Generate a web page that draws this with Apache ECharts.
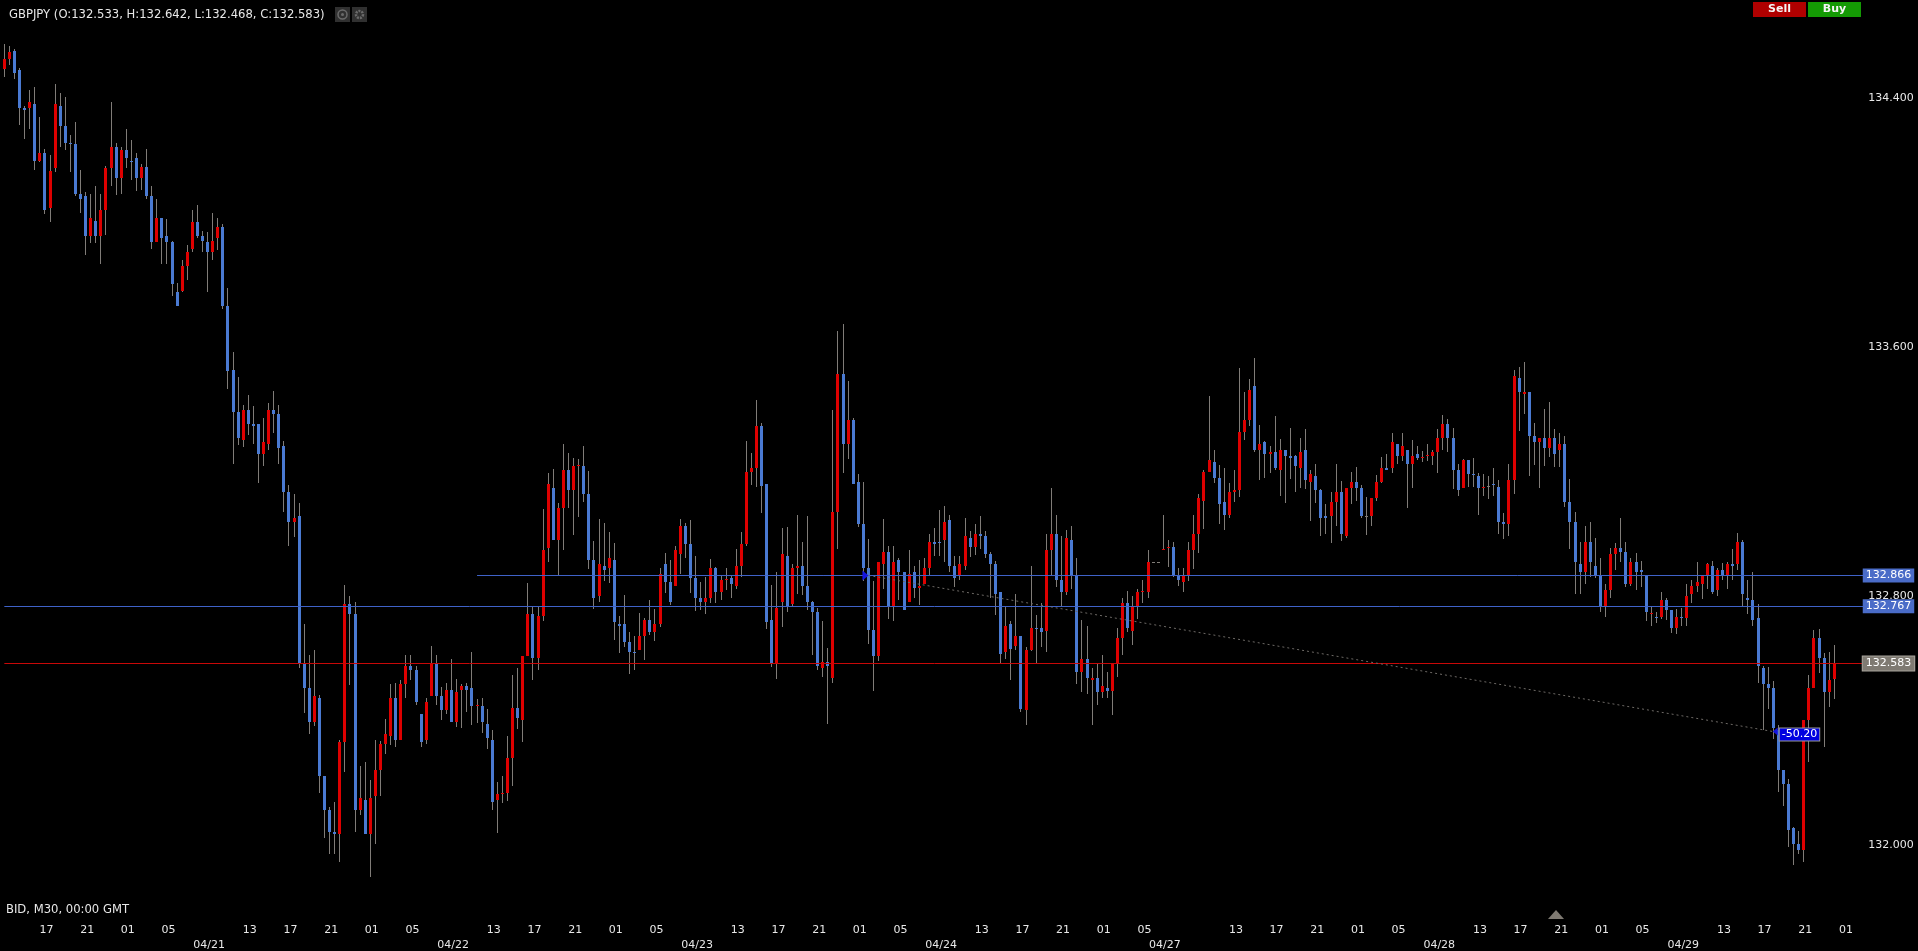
<!DOCTYPE html>
<html>
<head>
<meta charset="utf-8">
<title>GBPJPY M30</title>
<style>
html,body{margin:0;padding:0;background:#000;}
#main{width:1918px;height:951px;}
</style>
<script src="https://cdn.jsdelivr.net/npm/echarts@6/dist/echarts.min.js"></script>
</head>
<body>
<div id="main"></div>
<script>
// every row: open, close, low, high
var bars0421 = [
[134.496,134.527,134.468,134.576],[134.527,134.549,134.507,134.567],[134.554,134.483,134.462,134.560],[134.490,134.368,134.313,134.498],
[134.368,134.364,134.268,134.374],[134.368,134.387,134.303,134.428],[134.381,134.200,134.171,134.437],[134.200,134.226,134.197,134.339],
[134.226,134.040,134.027,134.238],[134.046,134.168,134.001,134.217],[134.175,134.381,134.162,134.445],[134.374,134.310,134.245,134.416],
[134.310,134.258,134.233,134.406],[134.258,134.252,134.162,134.281],[134.252,134.091,134.087,134.323],[134.091,134.078,134.033,134.171],
[134.085,133.956,133.898,134.098],[133.956,134.014,133.934,134.094],[134.007,133.956,133.934,134.117],[133.956,134.040,133.866,134.091],
[134.040,134.175,133.962,134.184],[134.175,134.245,134.117,134.390],[134.245,134.143,134.088,134.258],[134.143,134.233,134.094,134.245],
[134.233,134.207,134.175,134.303],[134.200,134.197,134.139,134.265],[134.207,134.143,134.101,134.223],[134.143,134.181,134.104,134.188],
[134.181,134.085,134.075,134.236],[134.085,133.937,133.917,134.119],[133.937,134.014,133.937,134.078],[134.014,133.950,133.866,134.014],
[133.956,133.937,133.866,134.011],[133.937,133.802,133.763,133.943],[133.776,133.731,133.731,133.808],[133.782,133.860,133.779,133.879],
[133.860,133.905,133.815,133.930],[133.917,134.001,133.905,134.042],[134.001,133.956,133.950,134.056],[133.956,133.943,133.905,133.975],
[133.937,133.905,133.779,133.969],[133.905,133.943,133.879,134.030],[133.950,133.988,133.911,134.014],[133.988,133.731,133.724,133.995],
[133.731,133.525,133.464,133.789],[133.526,133.391,133.224,133.584],[133.391,133.307,133.285,133.503],[133.301,133.397,133.278,133.413]
];
var bars0422 = [
[133.397,133.352,133.317,133.445],[133.352,133.346,133.288,133.410],[133.352,133.256,133.162,133.352],[133.256,133.294,133.217,133.372],
[133.288,133.397,133.269,133.420],[133.397,133.384,133.323,133.458],[133.384,133.275,133.224,133.413],[133.281,133.134,133.069,133.298],
[133.134,133.037,132.960,133.156],[133.037,133.050,132.989,133.127],[133.056,132.583,132.568,133.098],[132.583,132.503,132.423,132.711],
[132.503,132.394,132.355,132.609],[132.394,132.478,132.381,132.626],[132.471,132.220,132.166,132.481],[132.220,132.111,132.021,132.220],
[132.111,132.040,131.969,132.121],[132.040,132.034,131.969,132.137],[132.034,132.330,131.944,132.336],[132.330,132.773,132.233,132.834],
[132.773,132.741,132.513,132.799],[132.741,132.111,132.040,132.780],[132.111,132.150,132.095,132.252],[132.143,132.034,132.034,132.265],
[132.034,132.150,131.895,132.207],[132.156,132.240,132.002,132.336],[132.240,132.323,132.156,132.333],[132.323,132.355,132.291,132.404],
[132.349,132.471,132.320,132.516],[132.471,132.336,132.314,132.519],[132.336,132.516,132.336,132.529],[132.516,132.574,132.471,132.609],
[132.574,132.561,132.529,132.609],[132.561,132.458,132.449,132.574],[132.420,132.330,132.314,132.420],[132.336,132.458,132.323,132.471],
[132.478,132.583,132.478,132.638],[132.583,132.478,132.449,132.609],[132.478,132.433,132.400,132.507],[132.433,132.497,132.420,132.519],
[132.497,132.394,132.394,132.597],[132.394,132.490,132.378,132.532],[132.497,132.510,132.375,132.516],[132.510,132.497,132.426,132.519],
[132.503,132.445,132.384,132.619],[132.445,132.448,132.391,132.468],[132.445,132.394,132.359,132.471],[132.388,132.343,132.307,132.436]
];
var bars0423 = [
[132.336,132.136,132.111,132.368],[132.143,132.162,132.037,132.201],[132.162,132.168,132.133,132.220],[132.168,132.278,132.140,132.349],
[132.278,132.439,132.188,132.545],[132.439,132.407,132.371,132.568],[132.400,132.606,132.330,132.606],[132.606,132.741,132.606,132.841],
[132.741,132.600,132.529,132.764],[132.600,132.735,132.561,132.767],[132.735,132.947,132.719,133.079],[132.953,133.159,132.908,133.195],
[133.146,132.979,132.979,133.207],[132.979,133.082,132.867,133.098],[133.082,133.204,132.947,133.288],[133.204,133.140,133.082,133.259],
[133.140,133.217,132.995,133.243],[133.217,133.220,133.053,133.240],[133.217,133.127,133.101,133.281],[133.127,132.915,132.886,133.201],
[132.915,132.793,132.757,132.976],[132.799,132.902,132.780,133.047],[132.896,132.883,132.847,133.034],[132.889,132.921,132.841,133.005],
[132.915,132.716,132.658,132.970],[132.709,132.703,132.616,132.735],[132.709,132.651,132.635,132.802],[132.651,132.619,132.548,132.683],
[132.619,132.616,132.561,132.671],[132.626,132.671,132.626,132.745],[132.671,132.722,132.593,132.728],[132.722,132.683,132.674,132.786],
[132.683,132.709,132.655,132.757],[132.709,132.870,132.699,132.889],[132.902,132.844,132.809,132.937],[132.844,132.780,132.770,132.915],
[132.831,132.947,132.831,132.960],[132.934,133.024,132.870,133.047],[133.024,132.966,132.921,133.034],[132.966,132.857,132.809,133.043],
[132.857,132.793,132.751,132.928],[132.793,132.780,132.754,132.844],[132.780,132.793,132.741,132.860],[132.793,132.889,132.777,132.918],
[132.889,132.812,132.777,132.892],[132.812,132.851,132.786,132.863],[132.851,132.854,132.818,132.889],[132.857,132.838,132.793,132.863]
];
var bars0424 = [
[132.831,132.896,132.822,132.950],[132.896,132.966,132.860,133.005],[132.966,133.198,132.960,133.298],[133.198,133.211,133.156,133.259],
[133.211,133.346,133.150,133.429],[133.346,133.153,133.066,133.355],[133.159,132.716,132.693,133.159],[132.722,132.584,132.571,132.835],
[132.581,132.761,132.532,132.876],[132.780,132.934,132.699,133.018],[132.928,132.767,132.748,133.021],[132.773,132.889,132.767,132.902],
[132.889,132.896,132.806,133.060],[132.896,132.831,132.802,132.973],[132.831,132.780,132.754,133.056],[132.780,132.748,132.609,132.783],
[132.748,132.574,132.561,132.761],[132.568,132.587,132.539,132.719],[132.587,132.574,132.388,132.632],[132.536,133.069,132.519,133.397],
[133.069,133.513,132.950,133.651],[133.513,133.288,133.195,133.674],[133.288,133.365,133.240,133.491],[133.365,133.159,133.159,133.372],
[133.166,133.031,133.021,133.191],[133.031,132.889,132.847,133.166],[132.889,132.690,132.645,132.982],[132.690,132.606,132.494,132.847],
[132.606,132.908,132.590,132.908],[132.902,132.941,132.822,133.047],[132.941,132.767,132.725,132.960],[132.767,132.908,132.719,132.960],
[132.915,132.876,132.786,132.921],[132.876,132.754,132.754,132.876],[132.780,132.870,132.780,132.947],[132.876,132.825,132.793,132.896],
[132.825,132.831,132.770,132.915],[132.838,132.889,132.838,132.921],[132.889,132.973,132.867,132.998],[132.973,132.966,132.928,133.018],
[132.973,132.970,132.928,133.076],[132.979,133.037,132.908,133.089],[133.043,132.895,132.876,133.062],[132.895,132.857,132.828,132.927],
[132.865,132.902,132.850,132.927],[132.895,132.992,132.882,133.050],[132.985,132.959,132.924,133.008],[132.959,132.998,132.931,133.033]
];
var bars0427 = [
[132.998,132.992,132.950,133.056],[132.992,132.934,132.921,133.008],[132.934,132.902,132.792,132.940],[132.902,132.805,132.738,132.914],
[132.812,132.612,132.586,132.812],[132.619,132.702,132.599,132.763],[132.709,132.631,132.529,132.718],[132.638,132.670,132.625,132.805],
[132.670,132.438,132.426,132.670],[132.432,132.625,132.384,132.635],[132.625,132.696,132.622,132.898],[132.696,132.693,132.586,132.738],
[132.696,132.683,132.635,132.776],[132.689,132.947,132.619,132.998],[132.947,132.998,132.863,133.146],[132.998,132.850,132.828,133.059],
[132.850,132.812,132.767,132.992],[132.812,132.985,132.802,133.011],[132.979,132.863,132.824,133.024],[132.863,132.554,132.516,132.921],
[132.554,132.599,132.490,132.722],[132.599,132.535,132.484,132.702],[132.529,132.535,132.384,132.570],[132.535,132.490,132.451,132.580],
[132.490,132.509,132.471,132.609],[132.503,132.496,132.471,132.557],[132.496,132.586,132.416,132.586],[132.586,132.664,132.541,132.696],
[132.664,132.779,132.609,132.795],[132.779,132.696,132.683,132.815],[132.689,132.767,132.641,132.799],[132.767,132.812,132.725,132.824],
[132.812,132.815,132.776,132.853],[132.812,132.908,132.792,132.947],[132.910,132.910,132.910,132.910],[132.910,132.910,132.910,132.910],
[132.947,132.950,132.947,133.059],[132.953,132.956,132.892,132.979],[132.959,132.863,132.860,132.972],[132.869,132.850,132.831,132.889],
[132.844,132.863,132.812,132.889],[132.863,132.947,132.847,132.972],[132.947,132.998,132.886,133.059],[132.998,133.114,132.937,133.127],
[133.107,133.198,133.014,133.204],[133.198,133.236,133.198,133.442],[133.230,133.178,133.162,133.268],[133.178,133.095,133.033,133.220]
];
var bars0428 = [
[133.101,133.062,133.011,133.210],[133.062,133.133,133.050,133.162],[133.133,133.140,133.101,133.204],[133.140,133.326,133.117,133.532],
[133.326,133.365,133.300,133.455],[133.365,133.461,133.345,133.497],[133.474,133.268,133.262,133.564],[133.268,133.288,133.172,133.349],
[133.294,133.255,133.178,133.297],[133.255,133.262,133.194,133.281],[133.262,133.210,133.204,133.378],[133.204,133.268,133.123,133.304],
[133.268,133.249,133.098,133.268],[133.249,133.243,133.175,133.339],[133.249,133.217,133.133,133.252],[133.210,133.262,133.146,133.307],
[133.268,133.172,133.143,133.336],[133.165,133.191,133.040,133.204],[133.185,133.140,133.098,133.226],[133.140,133.050,132.992,133.143],
[133.056,133.050,132.998,133.095],[133.056,133.101,132.969,133.133],[133.101,133.133,133.024,133.223],[133.133,132.998,132.976,133.169],
[132.992,133.146,132.985,133.146],[133.146,133.165,133.095,133.198],[133.165,133.146,133.104,133.214],[133.146,133.056,133.050,133.156],
[133.058,133.058,132.997,133.117],[133.056,133.114,133.024,133.114],[133.114,133.165,133.104,133.188],[133.165,133.210,133.162,133.246],
[133.210,133.204,133.204,133.255],[133.210,133.294,133.194,133.323],[133.288,133.249,133.223,133.288],[133.249,133.281,133.233,133.323],
[133.268,133.223,133.082,133.268],[133.223,133.249,133.146,133.300],[133.255,133.243,133.236,133.281],[133.243,133.246,133.230,133.265],
[133.249,133.252,133.233,133.288],[133.249,133.262,133.220,133.271],[133.262,133.307,133.194,133.336],[133.307,133.352,133.268,133.381],
[133.352,133.307,133.262,133.368],[133.307,133.204,133.143,133.339],[133.204,133.140,133.120,133.226],[133.146,133.236,133.146,133.239]
];
var bars0429 = [
[133.236,133.191,133.152,133.236],[133.191,133.188,133.149,133.243],[133.185,133.146,133.062,133.194],[133.146,133.152,133.120,133.191],
[133.155,133.155,133.111,133.185],[133.159,133.156,133.120,133.210],[133.152,133.037,132.998,133.172],[133.037,133.030,132.982,133.066],
[133.030,133.172,132.992,133.223],[133.172,133.506,133.127,133.526],[133.500,133.455,133.329,133.535],[133.448,133.455,133.384,133.551],
[133.455,133.313,133.185,133.455],[133.313,133.294,133.220,133.355],[133.294,133.307,133.146,133.307],[133.307,133.275,133.217,133.400],
[133.275,133.307,133.246,133.423],[133.307,133.255,133.214,133.336],[133.268,133.288,133.214,133.323],[133.288,133.101,133.085,133.316],
[133.101,133.037,132.950,133.175],[133.037,132.908,132.808,133.069],[132.902,132.876,132.808,132.972],[132.876,132.972,132.837,133.024],
[132.972,132.908,132.860,133.037],[132.895,132.869,132.857,132.985],[132.869,132.767,132.747,132.921],[132.767,132.818,132.734,132.837],
[132.818,132.934,132.792,132.953],[132.934,132.953,132.882,132.969],[132.953,132.940,132.908,133.050],[132.940,132.837,132.828,132.972],
[132.837,132.908,132.831,132.921],[132.908,132.876,132.818,132.937],[132.882,132.876,132.828,132.914],[132.869,132.747,132.718,132.869],
[132.741,132.744,132.705,132.763],[132.734,132.728,132.712,132.750],[132.734,132.786,132.725,132.812],[132.786,132.754,132.722,132.795],
[132.754,132.696,132.680,132.754],[132.696,132.734,132.677,132.757],[132.734,132.731,132.702,132.760],[132.728,132.799,132.702,132.837],
[132.805,132.831,132.776,132.850],[132.831,132.844,132.812,132.908],[132.837,132.863,132.789,132.863],[132.865,132.902,132.821,132.905]
];
var barsLast = [
[132.895,132.812,132.808,132.911],[132.818,132.882,132.799,132.889],[132.882,132.863,132.850,132.905],[132.863,132.902,132.821,132.908],
[132.902,132.898,132.853,132.950],[132.902,132.972,132.882,133.001],[132.972,132.805,132.767,132.979],[132.792,132.786,132.741,132.853],
[132.786,132.722,132.702,132.876],[132.728,132.574,132.519,132.773],[132.567,132.516,132.368,132.574],[132.516,132.503,132.436,132.571],
[132.503,132.374,132.339,132.526],[132.368,132.239,132.169,132.384],[132.239,132.194,132.124,132.239],[132.194,132.046,131.992,132.210],
[132.053,132.001,131.934,132.056],[132.001,131.982,131.969,132.043],[131.982,132.400,131.944,132.400],[132.400,132.503,132.265,132.545],
[132.503,132.664,132.503,132.690],[132.664,132.600,132.551,132.693],[132.600,132.490,132.313,132.616],[132.490,132.529,132.442,132.619],
[132.533,132.583,132.468,132.642]
];

var tickBars = [8,16,24,32,48,56,64,72,80,96,104,112,120,128,144,152,160,168,176,192,200,208,216,224,242,250,258,266,274,290,298,306,314,322,338,346,354,362];
var tickHours = ['17','21','01','05','13','17','21','01','05','13','17','21','01','05','13','17','21','01','05','13','17','21','01','05','13','17','21','01','05','13','17','21','01','05','13','17','21','01'];
var dateBars = [40,88,136,184,228,282,330];
var dateLabels = ['04/21','04/22','04/23','04/24','04/27','04/28','04/29'];
var priceTicks = [132.0,132.8,133.6,134.4];

var bidLine = 132.866, prevLine = 132.767, lastPrice = 132.583;
var measureFrom = [170,132.866], measureTo = [348,132.364];
var measureText = '-50.20';
var headerText = 'GBPJPY (O:132.533, H:132.642, L:132.468, C:132.583)';

var FONT = '"DejaVu Sans"';
var UP = '#de0000', DOWN = '#4a7ad2', WICK = '#807c78';
var bars = bars0421.concat(bars0422,bars0423,bars0424,bars0427,bars0428,bars0429,barsLast);

var categories = [];
for (var i = 0; i < 367; i++) categories.push('');
tickBars.forEach(function(b,k){ categories[b] = tickHours[k]; });
dateBars.forEach(function(b,k){ categories[b] = '\n' + dateLabels[k]; });

var rows = bars.map(function(r,k){ return [k,r[0],r[1],r[2],r[3]]; });

// wick 1px, body 3px, snapped to whole pixels like the original terminal
function renderBar(params,api){
    var idx = api.value(0), o = api.value(1), c = api.value(2), l = api.value(3), h = api.value(4);
    var x = Math.floor(api.coord([idx,o])[0]);
    var yo = Math.round(api.coord([idx,o])[1]);
    var yc = Math.round(api.coord([idx,c])[1]);
    var yl = Math.round(api.coord([idx,l])[1]);
    var yh = Math.round(api.coord([idx,h])[1]);
    var top = Math.min(yo,yc);
    var fill = c > o ? UP : (c < o ? DOWN : WICK);
    return {
        type:'group',
        children:[
            {type:'rect',shape:{x:x,y:yh,width:1,height:Math.max(yl-yh,1)},style:{fill:WICK}},
            {type:'rect',shape:{x:x-1,y:top,width:3,height:Math.max(Math.abs(yo-yc),1)},style:{fill:fill}}
        ]
    };
}

function priceLabel(price,bg,border){
    return {
        show:true, position:'end', distance:-2,
        formatter:price.toFixed(3),
        color:'#fff', fontFamily:FONT, fontSize:11,
        backgroundColor:bg, borderColor:border, borderWidth:border?1:0,
        padding:[2,3,1,3]
    };
}

var chart = echarts.init(document.getElementById('main'),null,{renderer:'canvas'});
chart.setOption({
    animation:false,
    backgroundColor:'#000',
    title:{
        text:headerText, left:4, top:4,
        textStyle:{color:'#e8e8e8',fontFamily:FONT,fontSize:11.6,fontWeight:'normal'}
    },
    grid:{left:1.79,top:0.4,width:1865.5,height:918,containLabel:false,outerBoundsMode:'none'},
    xAxis:{
        type:'category', data:categories,
        axisLine:{show:false},
        axisTick:{length:3,lineStyle:{color:'#6a6a6a'},alignWithLabel:true,
            interval:function(i,v){ return v !== '' && v.charAt(0) !== '\n'; }},
        axisLabel:{color:'#e8e8e8',fontFamily:FONT,fontSize:11,lineHeight:15,margin:4,padding:[0,0,0,3],
            interval:function(i,v){ return v !== ''; }},
        splitLine:{show:false}
    },
    yAxis:{
        type:'value', position:'right', scale:true,
        min:131.7633, max:134.7151,
        axisLine:{show:false}, splitLine:{show:false}, axisTick:{show:false},
        axisLabel:{color:'#e8e8e8',fontFamily:FONT,fontSize:11,margin:1,customValues:priceTicks,
            formatter:function(v){ return v.toFixed(3); }}
    },
    series:[
        {
            name:'GBPJPY', type:'custom', data:rows, silent:true, clip:false,
            renderItem:renderBar,
            encode:{x:0,y:[1,2,3,4]},
            markLine:{
                silent:true, symbol:'none', animation:false,
                data:[
                    [{coord:[93,bidLine],lineStyle:{color:'#3f62c8',width:1,type:'solid'},label:priceLabel(bidLine,'#4a6cc8')},{coord:[366,bidLine]}],
                    [{coord:[0,prevLine],lineStyle:{color:'#3f62c8',width:1,type:'solid'},label:priceLabel(prevLine,'#4a6cc8')},{coord:[366,prevLine]}],
                    [{coord:[0,lastPrice],lineStyle:{color:'#c80808',width:1,type:'solid'},label:priceLabel(lastPrice,'#7f7a72','#a8a49c')},{coord:[366,lastPrice]}],
                    [{coord:measureFrom,lineStyle:{color:'#6e6a66',width:1,type:[2,3]},label:{show:false}},{coord:measureTo}]
                ]
            },
            markPoint:{
                silent:true, animation:false,
                data:[
                    {coord:measureFrom,symbol:'triangle',symbolRotate:-90,symbolSize:[10,6],symbolOffset:[-3,0],itemStyle:{color:'#1414e0'},label:{show:false}},
                    {coord:measureTo,symbol:'triangle',symbolRotate:90,symbolSize:[8,5],symbolOffset:[2,0],itemStyle:{color:'#1414e0'},
                        label:{show:true,position:'right',distance:2,offset:[0,3],formatter:measureText,color:'#fff',fontFamily:FONT,fontSize:11,
                            backgroundColor:'#0000e0',borderColor:'#9a9a9a',borderWidth:1,padding:[1,2,0,2]}}
                ]
            }
        }
    ],
    graphic:[
        {type:'rect',shape:{x:335,y:7,width:15,height:15},style:{fill:'#303030'}},
        {type:'circle',shape:{cx:342.5,cy:14.5,r:4.5},style:{fill:'none',stroke:'#6a6a6a',lineWidth:1.5}},
        {type:'circle',shape:{cx:342.5,cy:14.5,r:1.5},style:{fill:'#6a6a6a'}},
        {type:'rect',shape:{x:352,y:7,width:15,height:15},style:{fill:'#303030'}},
        {type:'circle',shape:{cx:359.5,cy:14.5,r:3.5},style:{fill:'none',stroke:'#6a6a6a',lineWidth:2.5,lineDash:[2,1]}},
        {type:'rect',shape:{x:1753,y:2,width:53,height:15},style:{fill:'#b00000'}},
        {type:'text',x:1779.5,y:9.5,style:{text:'Sell',fill:'#f4f4f4',font:'bold 11px '+FONT,align:'center',verticalAlign:'middle'}},
        {type:'rect',shape:{x:1808,y:2,width:53,height:15},style:{fill:'#149a04'}},
        {type:'text',x:1834.5,y:9.5,style:{text:'Buy',fill:'#f4f4f4',font:'bold 11px '+FONT,align:'center',verticalAlign:'middle'}},
        {type:'text',x:6,y:910,style:{text:'BID, M30, 00:00 GMT',fill:'#e8e8e8',font:'11.6px '+FONT,verticalAlign:'middle'}},
        {type:'polygon',shape:{points:[[1548,919],[1556,910],[1564,919]]},style:{fill:'#7f7a72'}}
    ]
});
</script>
</body>
</html>
